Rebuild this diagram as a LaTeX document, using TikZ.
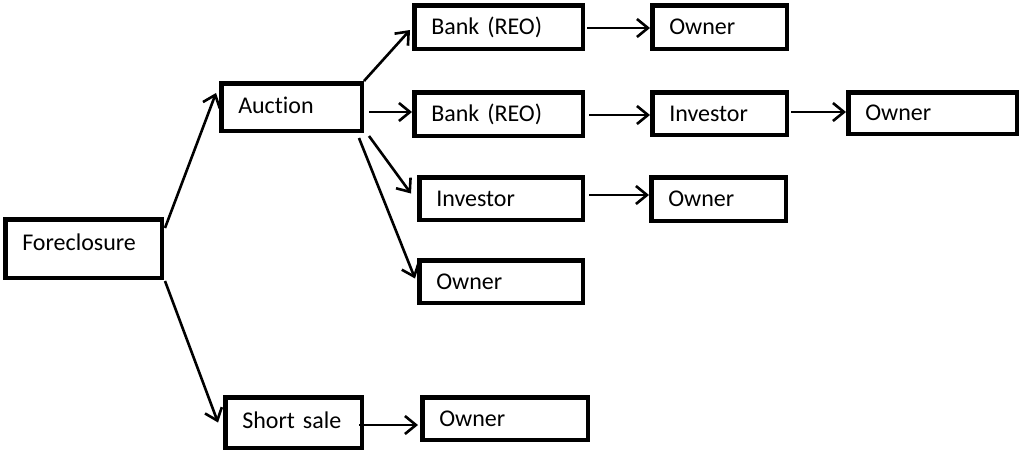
\documentclass[tikz,border=0pt]{standalone}
\usepackage{fontspec}
\setmainfont[Ligatures={NoCommon},RawFeature={-calt}]{Carlito}
\usetikzlibrary{arrows.meta,calc}
\tikzset{
  box/.style={draw, line width=4.5pt, rectangle, inner xsep=17pt, inner ysep=0pt,
    align=left, font=\fontsize{24}{28}\selectfont, anchor=center},
  conn/.style={line width=2.6pt, -{Straight Barb[length=11pt,width=18pt,line width=2.6pt]}}
}
\begin{document}
\begin{tikzpicture}[x=1pt,y=-1pt]
\useasboundingbox (0,0) rectangle (1021,455);
% boxes
\node[box, text width=122.5pt, minimum height=58.5pt] (F)  at (83.5,248.5) {\raisebox{12pt}{Foreclosure}};
\node[box, text width=106.5pt, minimum height=47.5pt] (A)  at (291.5,107) {\raisebox{4pt}{Auction}};
\node[box, text width=134.5pt, minimum height=43.5pt] (B1) at (498.5,27) {Bank (REO)};
\node[box, text width=100.5pt, minimum height=43.5pt] (O1) at (719.5,27) {Owner};
\node[box, text width=134.5pt, minimum height=43.5pt] (B2) at (498.5,114) {Bank (REO)};
\node[box, text width=100.5pt, minimum height=42.5pt] (I2) at (719.5,113.5) {Investor};
\node[box, text width=134.5pt, minimum height=41.5pt] (O3) at (932.5,113) {Owner};
\node[box, text width=129.5pt, minimum height=42.5pt] (I3) at (501,198.5) {Investor};
\node[box, text width=100.5pt, minimum height=43.5pt] (O4) at (718.5,199) {Owner};
\node[box, text width=129.5pt, minimum height=42.5pt] (O5) at (501,281.5) {Owner};
\node[box, text width=102.5pt, minimum height=50.5pt] (S)  at (293.5,422.5) {\raisebox{4pt}{Short sale}};
\node[box, text width=131.5pt, minimum height=42.5pt] (O6) at (505,418.5) {Owner};
% connectors
\draw[conn] ($(F.north east)+(1,11)$) -- ($(A.west)+(-3,-14)$);
\draw[conn] ($(F.south east)+(1,1)$) -- ($(S.west)+(-5,0)$);
\draw[conn] (A.north east) -- ($(B1.west)+(-2,3)$);
\draw[conn] ($(A.east)+(5,5)$) -- ($(B2.west)+(0,-2)$);
\draw[conn] ($(A.south east)+(5,3)$) -- ($(I3.west)+(-6,-5)$);
\draw[conn] ($(A.south east)+(-5,5)$) -- ($(O5.west)+(-2,-3)$);
\draw[conn] ($(B1.east)+(2,1)$) -- ($(O1.west)+(0,1)$);
\draw[conn] ($(B2.east)+(4,1)$) -- ($(I2.west)+(0,1.5)$);
\draw[conn] ($(I2.east)+(2,-1.5)$) -- ($(O3.west)+(0,-1)$);
\draw[conn] ($(I3.east)+(4,-3.5)$) -- ($(O4.west)+(0,-4)$);
\draw[conn] ($(S.east)+(-5,2.5)$) -- ($(O6.west)+(-2,6.5)$);
\end{tikzpicture}
\end{document}
